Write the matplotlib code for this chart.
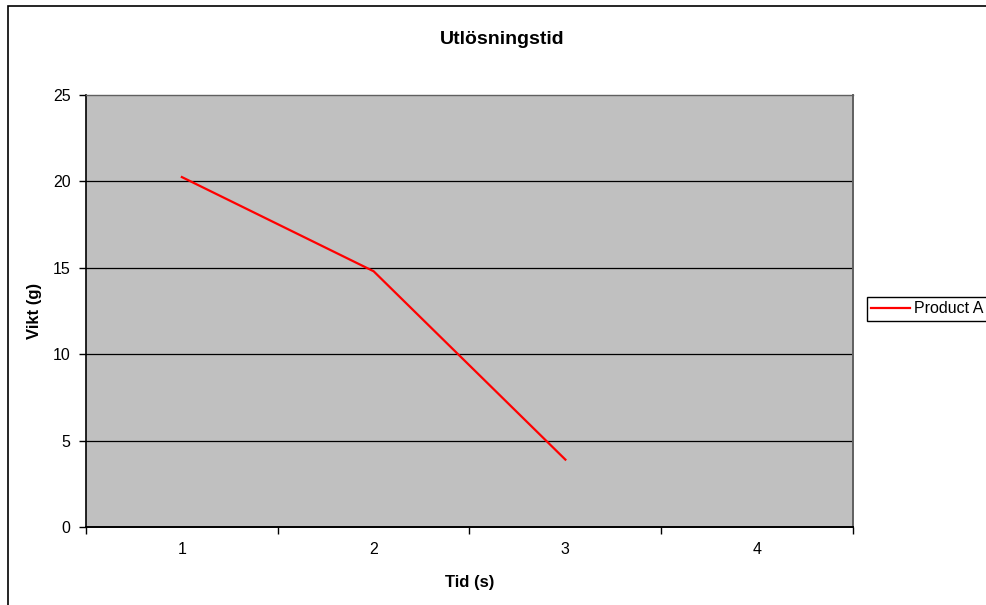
import matplotlib
matplotlib.use("Agg")
import matplotlib.pyplot as plt
from matplotlib.patches import Rectangle

plt.rcParams['font.family'] = ['Liberation Sans', 'DejaVu Sans']

# data
categories = [1, 2, 3, 4]
cat_labels = ["1", "2", "3", "4"]
product_a = [20.25, 14.8, 3.9]
y_ticks = [0, 5, 10, 15, 20, 25]

W, H = 986, 605
fig = plt.figure(figsize=(W / 100, H / 100), dpi=100)
fig.patch.set_facecolor("white")

# plot area in pixels: left 86, right 853, top 95, bottom 527
ax = fig.add_axes([86 / W, 1 - 527 / H, (853 - 86) / W, (527 - 95) / H])
ax.set_facecolor("#C0C0C0")

ax.plot(categories[:len(product_a)], product_a, color="#FF0000", linewidth=1.6,
        label="Product A", solid_joinstyle="miter", zorder=3)

ax.set_xlim(0.5, 4.5)
ax.set_ylim(0, 25)
ax.set_yticks(y_ticks)
ax.set_yticklabels([str(t) for t in y_ticks], fontsize=11.5)
# category axis: ticks on boundaries, labels in centres
ax.set_xticks([0.5, 1.5, 2.5, 3.5, 4.5])
ax.set_xticklabels([])
ax.set_xticks(categories, minor=True)
ax.set_xticklabels(cat_labels, minor=True, fontsize=11.5)
ax.tick_params(axis="x", which="minor", length=0, pad=11)
ax.tick_params(axis="x", which="major", length=5, width=1, color="black")
ax.tick_params(axis="y", length=5, width=1, pad=6)

for y in y_ticks[1:-1]:
    ax.axhline(y, color="black", linewidth=0.9, zorder=1)

ax.spines["left"].set_color("black")
ax.spines["bottom"].set_color("black")
ax.spines["left"].set_linewidth(1.2)
ax.spines["bottom"].set_linewidth(1.4)
ax.spines["top"].set_color("#606060")
ax.spines["right"].set_color("#606060")
ax.spines["top"].set_linewidth(1.0)
ax.spines["right"].set_linewidth(1.4)

fig.text(470 / W, 1 - 582 / H, "Tid (s)", fontsize=12, fontweight="bold",
         ha="center", va="center")
fig.text(35 / W, 1 - 311 / H, "Vikt (g)", fontsize=12, fontweight="bold",
         ha="center", va="center", rotation=90)
fig.text(502 / W, 1 - 40 / H, "Utlösningstid", fontsize=14, fontweight="bold",
         ha="center", va="center")

# chart border (runs off the right and bottom edges)
fig.patches.append(Rectangle((8 / W, -0.1), 1.2, 1 - 6 / H + 0.1,
                             transform=fig.transFigure, fill=False,
                             edgecolor="black", linewidth=1.2))

leg = fig.legend(loc="upper left", bbox_to_anchor=(867 / W, 1 - 297 / H),
                 fontsize=11.5, frameon=True, fancybox=False, framealpha=1,
                 edgecolor="black", borderaxespad=0, borderpad=0.28,
                 handlelength=2.4, handletextpad=0.25)
leg.get_frame().set_linewidth(1.0)

fig.savefig("out.png", dpi=100)
plt.close()
